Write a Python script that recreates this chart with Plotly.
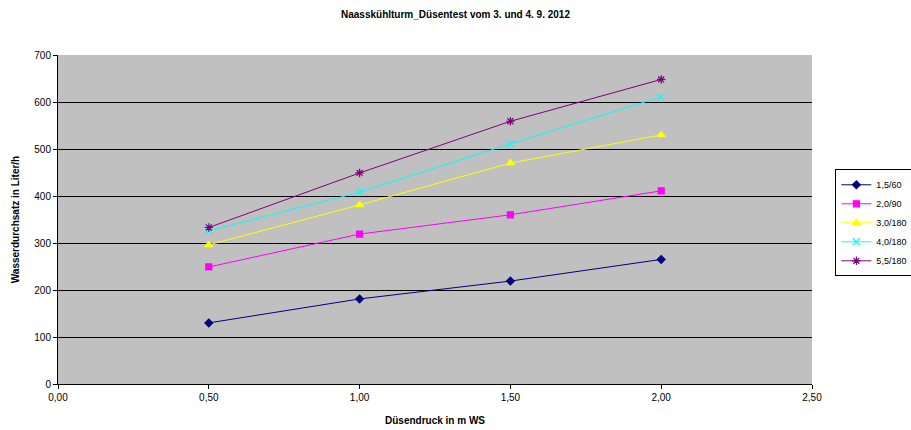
import plotly.graph_objects as go

x_vals = [0.5, 1.0, 1.5, 2.0]
series_names = ["1,5/60", "2,0/90", "3,0/180", "4,0/180", "5,5/180"]
s1 = [130, 181, 219, 265]
s2 = [249, 319, 360, 411]
s3 = [296, 381, 470, 530]
s4 = [326, 408, 511, 611]
s5 = [333, 449, 559, 648]
x_ticks = [0, 0.5, 1.0, 1.5, 2.0, 2.5]
x_tick_text = ["0,00", "0,50", "1,00", "1,50", "2,00", "2,50"]

styles = [
    ("#000080", "diamond", 6),
    ("#FF00FF", "square", 6),
    ("#FFFF00", "triangle-up", 7),
    ("#00FFFF", "x-thin-open", 7),
    ("#800080", "asterisk-open", 7),
]

fig = go.Figure()
for name, ys, (c, sym, sz) in zip(series_names, [s1, s2, s3, s4, s5], styles):
    fig.add_trace(go.Scatter(
        x=x_vals, y=ys, name=name, mode="lines+markers",
        line=dict(color=c, width=1),
        marker=dict(symbol=sym, size=sz, color=c, line=dict(color=c, width=1.2)),
    ))

font = "Liberation Sans, Arial, sans-serif"
fig.update_layout(
    width=911, height=430,
    margin=dict(l=58, r=99, t=55, b=46, autoexpand=False),
    paper_bgcolor="white", plot_bgcolor="#C0C0C0",
    font=dict(family=font, size=10, color="black"),
    title=dict(text="<b>Naasskühlturm_Düsentest vom 3. und 4. 9. 2012</b>",
               x=0.5, xanchor="center", y=0.967, yanchor="middle",
               font=dict(size=10)),
    xaxis=dict(range=[0, 2.5], tickvals=x_ticks, ticktext=x_tick_text,
               showgrid=False, zeroline=False, showline=True, linecolor="black",
               linewidth=1, ticks="outside", ticklen=4, tickcolor="black",
               automargin=False,
               title=dict(text="<b>Düsendruck in m WS</b>", font=dict(size=10), standoff=14),
               tickfont=dict(size=10)),
    yaxis=dict(range=[0, 700], dtick=100, showgrid=True, gridcolor="black", gridwidth=1,
               zeroline=False, showline=True, linecolor="black", linewidth=1,
               ticks="outside", ticklen=4, tickcolor="black", automargin=False,
               title=dict(text="<b>Wasserdurchsatz in Liter/h</b>", font=dict(size=10), standoff=12),
               tickfont=dict(size=10)),
    legend=dict(x=1.031, y=0.49, xanchor="left", yanchor="middle",
                bordercolor="black", borderwidth=1, bgcolor="white",
                font=dict(size=9), itemwidth=30, tracegroupgap=0),
    showlegend=True,
)

fig.write_html("out.html")
